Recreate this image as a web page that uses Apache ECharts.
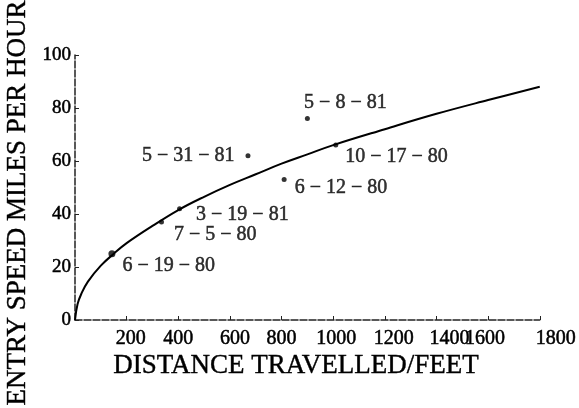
<!DOCTYPE html>
<html>
<head>
<meta charset="utf-8">
<script src="https://cdn.jsdelivr.net/npm/echarts@6/dist/echarts.min.js"></script>
<style>
  html, body { margin: 0; padding: 0; background: #fff; }
  #chart { width: 579px; height: 408px; }
</style>
</head>
<body>
<div id="chart"></div>
<script>
// Measured entry events: distance travelled (feet) vs entry speed (mph)
var eventDates = ['6-19-80', '7-5-80', '3-19-81', '5-31-81', '6-12-80', '5-8-81', '10-17-80'];
var eventDistance = [143, 335, 405, 670, 810, 900, 1010];
var eventSpeed = [25, 37, 42, 62, 53, 76, 66];

// Fitted trend curve, read along its length
var curveDistance = [0, 10, 25, 50, 100, 150, 200, 300, 400, 500, 600, 700, 800, 900, 1000, 1200, 1400, 1600, 1800];
var curveSpeed = [0, 6, 10, 14.5, 20.5, 25, 29, 35.5, 41.5, 46.5, 51, 55, 59, 62.5, 66, 72, 77.8, 83, 88];

var xTicks = [200, 400, 600, 800, 1000, 1200, 1400, 1600, 1800];
var yTicks = [0, 20, 40, 60, 80, 100];

// horizontal nudges of x tick labels (typeset spacing)
var xLabelShift = { 200: 4, 600: 5, 1000: 3, 1200: 9, 1400: 13, 1600: -3, 1800: 16 };

// label placement per event: [anchor position, dx, dy]
var labelPlace = {
  '6-19-80': ['right', 2, 12],
  '7-5-80': ['right', 5, 13],
  '3-19-81': ['right', 9, 6],
  '5-31-81': ['left', -6, 0],
  '6-12-80': ['right', 3, 8],
  '5-8-81': ['top', 38, 2],
  '10-17-80': ['right', 2, 12]
};
var dotSize = { '6-19-80': 7 };

var serif = '"Liberation Serif", "DejaVu Serif", serif';

var points = eventDates.map(function (d, i) {
  var p = labelPlace[d];
  return {
    name: d,
    value: [eventDistance[i], eventSpeed[i]],
    symbolSize: dotSize[d] || 5,
    label: { position: p[0], offset: [p[1], p[2]] }
  };
});
var curve = curveDistance.map(function (x, i) { return [x, curveSpeed[i]]; });

var xRich = {};
xTicks.forEach(function (t) {
  var s = xLabelShift[t] || 0;
  xRich['t' + t] = {
    fontFamily: serif, fontSize: 20, color: '#000',
    textBorderColor: '#000', textBorderWidth: 0.5,
    padding: s >= 0 ? [0, 0, 0, 2 * s] : [0, -2 * s, 0, 0]
  };
});

var chart = echarts.init(document.getElementById('chart'), null, { renderer: 'canvas' });
chart.setOption({
  animation: false,
  backgroundColor: '#fff',
  grid: { left: 75, right: 37, top: 55, bottom: 88 },
  xAxis: {
    type: 'value', min: 0, max: 1800, interval: 200,
    axisLine: { lineStyle: { color: '#222', width: 1.5, type: [7, 2] } },
    axisTick: { inside: true, length: 4, lineStyle: { color: '#222' } },
    axisLabel: {
      showMinLabel: false, margin: 9, color: '#000',
      fontFamily: serif, fontSize: 20, rich: xRich,
      formatter: function (v) { return xTicks.indexOf(v) >= 0 ? '{t' + v + '|' + v + '}' : ''; }
    },
    splitLine: { show: false }
  },
  yAxis: {
    type: 'value', min: 0, max: 100, interval: 20,
    axisLine: { show: true, lineStyle: { color: '#222', width: 1.5, type: [7, 2] } },
    axisTick: { show: true, inside: true, length: 4, lineStyle: { color: '#222' } },
    axisLabel: {
      margin: 4, color: '#000', fontFamily: serif, fontSize: 19,
      textBorderColor: '#000', textBorderWidth: 0.5,
      formatter: function (v) { return yTicks.indexOf(v) >= 0 ? String(v) : ''; }
    },
    splitLine: { show: false }
  },
  graphic: [
    {
      type: 'text', x: 296, y: 366,
      style: {
        text: 'DISTANCE TRAVELLED/FEET', fill: '#000',
        stroke: '#000', lineWidth: 0.4,
        font: '27px ' + serif, textAlign: 'center', textVerticalAlign: 'middle'
      }
    },
    {
      type: 'text', x: 18, y: 203, rotation: Math.PI / 2,
      style: {
        text: 'ENTRY SPEED MILES PER HOUR', fill: '#000',
        stroke: '#000', lineWidth: 0.4,
        font: '27px ' + serif, textAlign: 'center', textVerticalAlign: 'middle'
      }
    }
  ],
  series: [
    {
      type: 'line', data: curve, smooth: 0.4,
      showSymbol: false, lineStyle: { color: '#000', width: 2 }, z: 2
    },
    {
      type: 'scatter', data: points,
      itemStyle: { color: '#000' }, z: 3,
      label: {
        show: true, color: '#000', fontFamily: serif, fontSize: 20,
        textBorderColor: '#000', textBorderWidth: 0.5,
        formatter: function (p) { return p.name.split('-').join(' \u2212 '); }
      }
    }
  ]
});
</script>
</body>
</html>
